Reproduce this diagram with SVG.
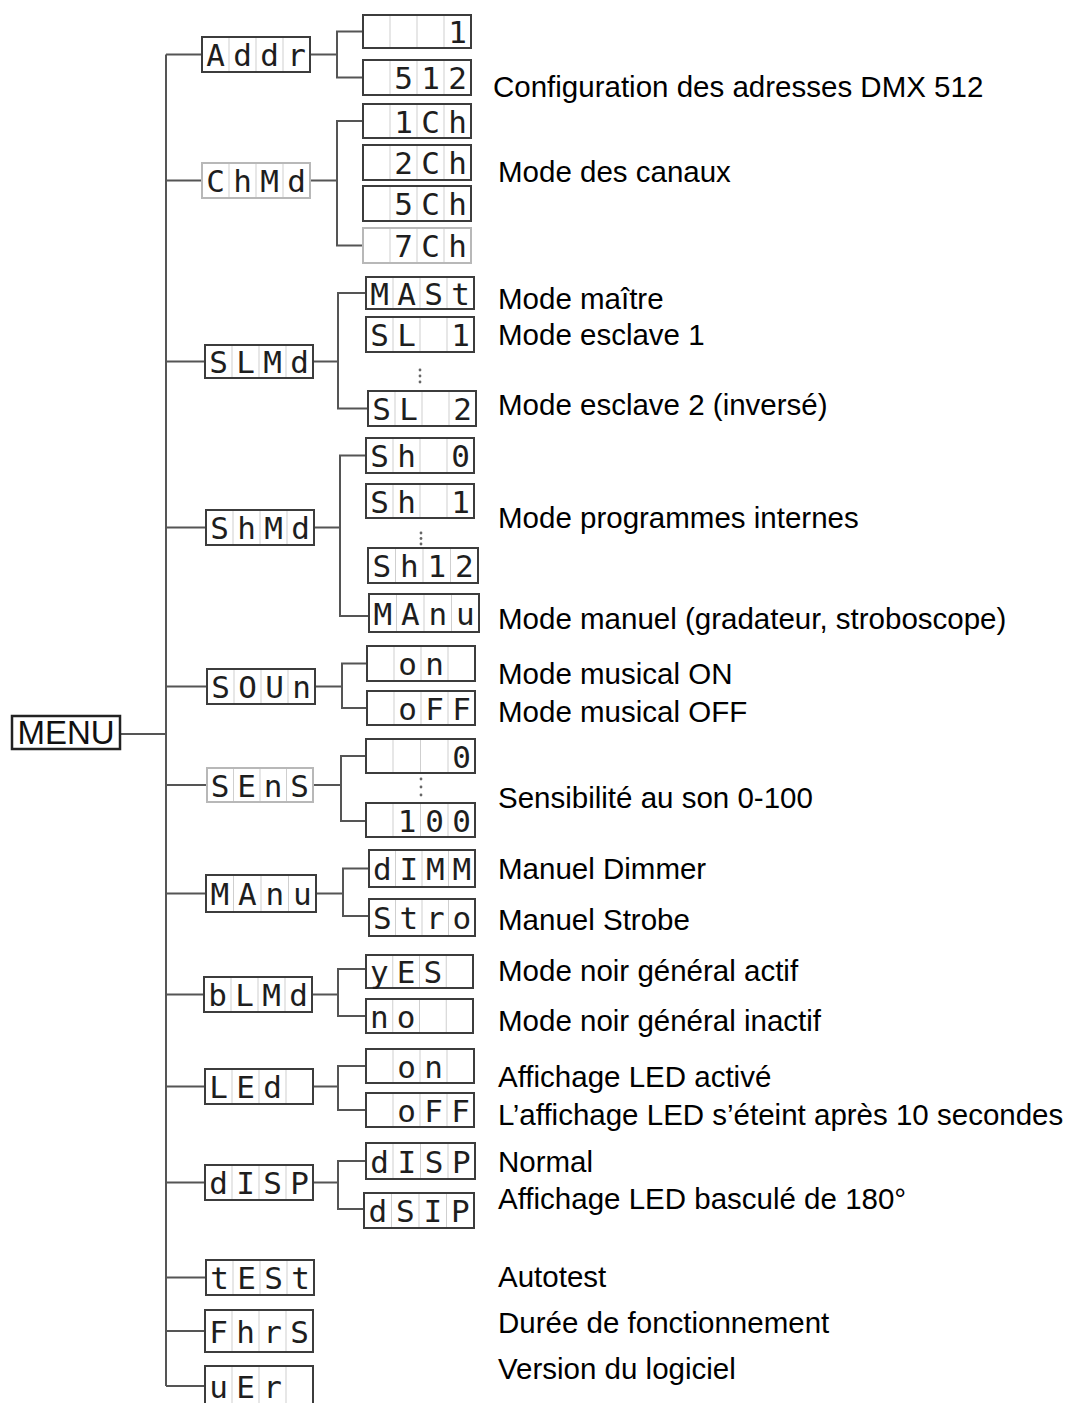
<svg xmlns="http://www.w3.org/2000/svg" width="1066" height="1403" viewBox="0 0 1066 1403">
<style>
.box{fill:#fff;stroke:#3c3c3c;stroke-width:2}
.faint{stroke:#b8b8b8}
.cell{stroke:#cfcfcf;stroke-width:1}
.lcd{font-family:"DejaVu Sans Mono","Liberation Mono",monospace;font-size:31px;fill:#1e1e1e;text-anchor:middle}
.conn{stroke:#555;stroke-width:2;fill:none}
.lbl{font-family:"Liberation Sans",Arial,sans-serif;font-size:29.5px;fill:#000}
.menu{font-family:"Liberation Sans",Arial,sans-serif;font-size:33px;fill:#111;text-anchor:middle}
.dot{fill:#666}
</style>

<g id="connectors">
<path class="conn" d="M166 54.5V1386M120 734H166"/>
<path class="conn" d="M166 54.5H202M166 180.5H202M166 361.5H205M166 527.5H206M166 686.5H207M166 785H207M166 893.5H206M166 994.5H204M166 1086.5H205M166 1182.5H205M166 1277.5H206M166 1331H205M166 1386H205"/>
<path class="conn" d="M311 54.5H337M363 31.5H337V77.5H363"/>
<path class="conn" d="M310 180.5H337M363 121H337V245.5H363"/>
<path class="conn" d="M313 361.5H338M366 293H338V408.5H368"/>
<path class="conn" d="M313 527.5H340M366 455.5H340V616H369"/>
<path class="conn" d="M315 686.5H342M367 663.5H342V708H367"/>
<path class="conn" d="M313 785H341M366 756H341V821H366"/>
<path class="conn" d="M316 893.5H343M369 868.5H343V916H369"/>
<path class="conn" d="M312 994.5H338M366 969H338V1016H366"/>
<path class="conn" d="M313 1086.5H338M366 1066H338V1110H366"/>
<path class="conn" d="M313 1182.5H338M366 1161H338V1209H364"/>
</g>

<g id="menu">
<rect class="box" x="12" y="716" width="108" height="33" style="stroke:#222;stroke-width:2.5"/>
<text class="menu" x="66" y="744">MENU</text>
</g>

<!-- main level -->
<g id="addr"><rect class="box" x="202" y="37" width="108" height="35"/><path class="cell" d="M229 38V71M256 38V71M283 38V71"/><text class="lcd" x="215.5 242.5 269.5 296.5" y="65.5">Addr</text></g>
<g id="chmd"><rect class="box faint" x="202" y="163" width="108" height="35"/><path class="cell" d="M229 164V197M256 164V197M283 164V197"/><text class="lcd" x="215.5 242.5 269.5 296.5" y="191.5">ChMd</text></g>
<g id="slmd"><rect class="box" x="205" y="345" width="108" height="33"/><path class="cell" d="M232 346V377M259 346V377M286 346V377"/><text class="lcd" x="218.5 245.5 272.5 299.5" y="373">SLMd</text></g>
<g id="shmd"><rect class="box" x="206" y="510" width="108" height="35"/><path class="cell" d="M233 511V544M260 511V544M287 511V544"/><text class="lcd" x="219.5 246.5 273.5 300.5" y="539">ShMd</text></g>
<g id="soun"><rect class="box" x="207" y="669" width="108" height="35"/><path class="cell" d="M234 670V703M261 670V703M288 670V703"/><text class="lcd" x="220.5 247.5 274.5 301.5" y="698">SOUn</text></g>
<g id="sens"><rect class="box faint" x="207" y="768" width="106" height="34"/><path class="cell" d="M233.5 769V801M260 769V801M286.5 769V801"/><text class="lcd" x="220 246.5 273 299.5" y="796.5">SEnS</text></g>
<g id="manu"><rect class="box" x="206" y="875" width="110" height="37"/><path class="cell" d="M233.5 876V911M261 876V911M288.5 876V911"/><text class="lcd" x="219.75 247.25 274.75 302.25" y="905">MAnu</text></g>
<g id="blmd"><rect class="box" x="204" y="977" width="108" height="35"/><path class="cell" d="M231 978V1011M258 978V1011M285 978V1011"/><text class="lcd" x="217.5 244.5 271.5 298.5" y="1006">bLMd</text></g>
<g id="led"><rect class="box" x="205" y="1069" width="108" height="35"/><path class="cell" d="M232 1070V1103M259 1070V1103M286 1070V1103"/><text class="lcd" x="218.5 245.5 272.5" y="1098">LEd</text></g>
<g id="disp"><rect class="box" x="205" y="1165" width="108" height="35"/><path class="cell" d="M232 1166V1199M259 1166V1199M286 1166V1199"/><text class="lcd" x="218.5 245.5 272.5 299.5" y="1194">dISP</text></g>
<g id="test"><rect class="box" x="206" y="1260" width="108" height="35"/><path class="cell" d="M233 1261V1294M260 1261V1294M287 1261V1294"/><text class="lcd" x="219.5 246.5 273.5 300.5" y="1289">tESt</text></g>
<g id="fhrs"><rect class="box" x="205" y="1310" width="108" height="42"/><path class="cell" d="M232 1311V1351M259 1311V1351M286 1311V1351"/><text class="lcd" x="218.5 245.5 272.5 299.5" y="1342.5">FhrS</text></g>
<g id="uer"><rect class="box" x="205" y="1366" width="108" height="42"/><path class="cell" d="M232 1367V1403M259 1367V1403M286 1367V1403"/><text class="lcd" x="218.5 245.5 272.5" y="1398">uEr</text></g>

<!-- sub level -->
<g id="addr-1"><rect class="box" x="363" y="15" width="108" height="33"/><path class="cell" d="M390 16V47M417 16V47M444 16V47"/><text class="lcd" x="457.5" y="43">1</text></g>
<g id="addr-512"><rect class="box" x="363" y="60" width="108" height="35"/><path class="cell" d="M390 61V94M417 61V94M444 61V94"/><text class="lcd" x="403.5 430.5 457.5" y="89">512</text></g>

<g id="ch-1"><rect class="box" x="363" y="104" width="108" height="34"/><path class="cell" d="M390 105V137M417 105V137M444 105V137"/><text class="lcd" x="403.5 430.5 457.5" y="132.5">1Ch</text></g>
<g id="ch-2"><rect class="box" x="363" y="145" width="108" height="35"/><path class="cell" d="M390 146V179M417 146V179M444 146V179"/><text class="lcd" x="403.5 430.5 457.5" y="174">2Ch</text></g>
<g id="ch-5"><rect class="box" x="363" y="186" width="108" height="35"/><path class="cell" d="M390 187V220M417 187V220M444 187V220"/><text class="lcd" x="403.5 430.5 457.5" y="215">5Ch</text></g>
<g id="ch-7"><rect class="box faint" x="363" y="228" width="108" height="35"/><path class="cell" d="M390 229V262M417 229V262M444 229V262"/><text class="lcd" x="403.5 430.5 457.5" y="257">7Ch</text></g>

<g id="sl-mast"><rect class="box" x="366" y="277" width="108" height="32"/><path class="cell" d="M393 278V308M420 278V308M447 278V308"/><text class="lcd" x="379.5 406.5 433.5 460.5" y="304.5">MASt</text></g>
<g id="sl-1"><rect class="box" x="366" y="317" width="108" height="35"/><path class="cell" d="M393 318V351M420 318V351M447 318V351"/><text class="lcd" x="379.5 406.5 433.5 460.5" y="346">SL 1</text></g>
<g id="sl-dots"><circle class="dot" cx="420" cy="370" r="1.4"/><circle class="dot" cx="420" cy="376" r="1.4"/><circle class="dot" cx="420" cy="382" r="1.4"/></g>
<g id="sl-2"><rect class="box" x="368" y="391" width="108" height="35"/><path class="cell" d="M395 392V425M422 392V425M449 392V425"/><text class="lcd" x="381.5 408.5 435.5 462.5" y="420">SL 2</text></g>

<g id="sh-0"><rect class="box" x="366" y="438" width="108" height="35"/><path class="cell" d="M393 439V472M420 439V472M447 439V472"/><text class="lcd" x="379.5 406.5 433.5 460.5" y="467">Sh 0</text></g>
<g id="sh-1"><rect class="box" x="366" y="484" width="108" height="34"/><path class="cell" d="M393 485V517M420 485V517M447 485V517"/><text class="lcd" x="379.5 406.5 433.5 460.5" y="512.5">Sh 1</text></g>
<g id="sh-dots"><circle class="dot" cx="421" cy="533" r="1.4"/><circle class="dot" cx="421" cy="538.5" r="1.4"/><circle class="dot" cx="421" cy="544" r="1.4"/></g>
<g id="sh-12"><rect class="box" x="368" y="548" width="110" height="35"/><path class="cell" d="M395.5 549V582M423 549V582M450.5 549V582"/><text class="lcd" x="381.75 409.25 436.75 464.25" y="577">Sh12</text></g>
<g id="sh-manu"><rect class="box" x="369" y="594" width="110" height="38"/><path class="cell" d="M396.5 595V631M424 595V631M451.5 595V631"/><text class="lcd" x="382.75 410.25 437.75 465.25" y="624.5">MAnu</text></g>

<g id="snd-on"><rect class="box" x="367" y="646" width="108" height="35"/><path class="cell" d="M394 647V680M421 647V680M448 647V680"/><text class="lcd" x="407.5 434.5" y="675">on</text></g>
<g id="snd-off"><rect class="box" x="367" y="691" width="108" height="34"/><path class="cell" d="M394 692V724M421 692V724M448 692V724"/><text class="lcd" x="407.5 434.5 461.5" y="719.5">oFF</text></g>

<g id="sens-0"><rect class="box" x="366" y="739" width="109" height="34"/><path class="cell" d="M393 740V772M420.5 740V772M448 740V772"/><text class="lcd" x="461.5" y="767.5">0</text></g>
<g id="sens-dots"><circle class="dot" cx="421" cy="779" r="1.4"/><circle class="dot" cx="421" cy="787" r="1.4"/><circle class="dot" cx="421" cy="795" r="1.4"/></g>
<g id="sens-100"><rect class="box" x="366" y="803" width="109" height="34"/><path class="cell" d="M393 804V836M420.5 804V836M448 804V836"/><text class="lcd" x="407 434.5 461.5" y="831.5">100</text></g>

<g id="man-dimm"><rect class="box" x="369" y="850" width="106" height="37"/><path class="cell" d="M395.5 851V886M422 851V886M448.5 851V886"/><text class="lcd" x="382.25 408.75 435.25 461.75" y="880">dIMM</text></g>
<g id="man-stro"><rect class="box" x="369" y="899" width="106" height="37"/><path class="cell" d="M395.5 900V935M422 900V935M448.5 900V935"/><text class="lcd" x="382.25 408.75 435.25 461.75" y="929">Stro</text></g>

<g id="bl-yes"><rect class="box" x="366" y="955" width="107" height="33"/><path class="cell" d="M392.75 956V987M419.5 956V987M446.25 956V987"/><text class="lcd" x="379.4 406.1 432.9" y="983">yES</text></g>
<g id="bl-no"><rect class="box" x="366" y="999" width="107" height="34"/><path class="cell" d="M392.75 1000V1032M419.5 1000V1032M446.25 1000V1032"/><text class="lcd" x="379.4 406.1" y="1027.5">no</text></g>

<g id="led-on"><rect class="box" x="366" y="1049" width="108" height="34"/><path class="cell" d="M393 1050V1082M420 1050V1082M447 1050V1082"/><text class="lcd" x="406.5 433.5" y="1077.5">on</text></g>
<g id="led-off"><rect class="box" x="366" y="1093" width="108" height="34"/><path class="cell" d="M393 1094V1126M420 1094V1126M447 1094V1126"/><text class="lcd" x="406.5 433.5 460.5" y="1121.5">oFF</text></g>

<g id="disp-disp"><rect class="box" x="366" y="1143" width="109" height="36"/><path class="cell" d="M393 1144V1178M420.5 1144V1178M448 1144V1178"/><text class="lcd" x="379.6 406.9 434.1 461.4" y="1172.5">dISP</text></g>
<g id="disp-dsip"><rect class="box" x="364" y="1193" width="110" height="35"/><path class="cell" d="M391.5 1194V1227M419 1194V1227M446.5 1194V1227"/><text class="lcd" x="377.75 405.25 432.75 460.25" y="1222">dSIP</text></g>

<g id="labels">
<text class="lbl" x="493" y="97">Configuration des adresses DMX 512</text>
<text class="lbl" x="498" y="182">Mode des canaux</text>
<text class="lbl" x="498" y="309">Mode maître</text>
<text class="lbl" x="498" y="345">Mode esclave 1</text>
<text class="lbl" x="498" y="415">Mode esclave 2 (inversé)</text>
<text class="lbl" x="498" y="528">Mode programmes internes</text>
<text class="lbl" x="498" y="629">Mode manuel (gradateur, stroboscope)</text>
<text class="lbl" x="498" y="684">Mode musical ON</text>
<text class="lbl" x="498" y="722">Mode musical OFF</text>
<text class="lbl" x="498" y="808">Sensibilité au son 0-100</text>
<text class="lbl" x="498" y="879">Manuel Dimmer</text>
<text class="lbl" x="498" y="930">Manuel Strobe</text>
<text class="lbl" x="498" y="981">Mode noir général actif</text>
<text class="lbl" x="498" y="1031">Mode noir général inactif</text>
<text class="lbl" x="498" y="1087">Affichage LED activé</text>
<text class="lbl" x="498" y="1125">L’affichage LED s’éteint après 10 secondes</text>
<text class="lbl" x="498" y="1172">Normal</text>
<text class="lbl" x="498" y="1209">Affichage LED basculé de 180°</text>
<text class="lbl" x="498" y="1287">Autotest</text>
<text class="lbl" x="498" y="1333">Durée de fonctionnement</text>
<text class="lbl" x="498" y="1379">Version du logiciel</text>
</g>
</svg>
